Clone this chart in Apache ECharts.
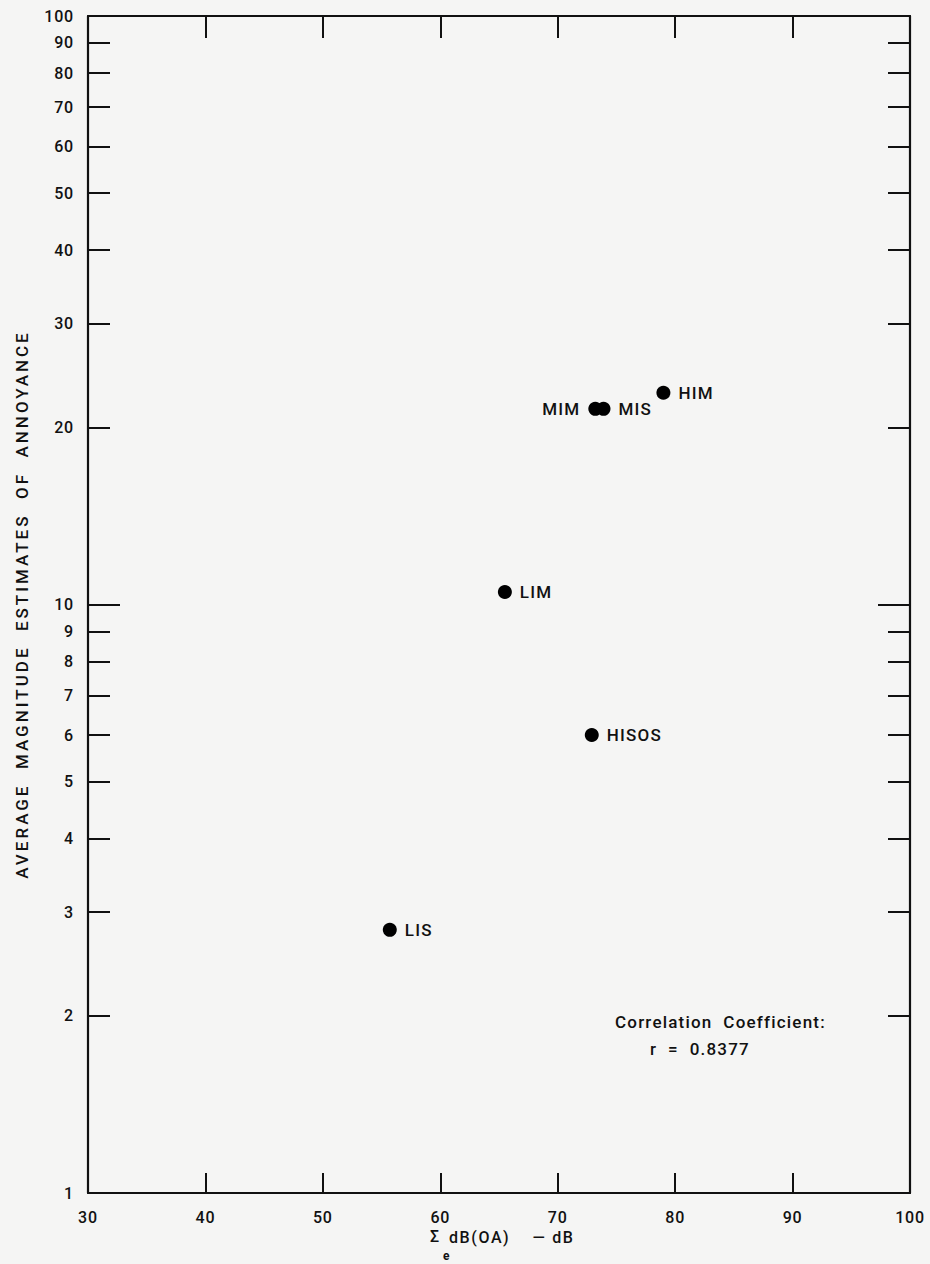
<!DOCTYPE html>
<html>
<head>
<meta charset="utf-8">
<script src="https://cdn.jsdelivr.net/npm/echarts@6/dist/echarts.min.js"></script>
<style>
html,body{margin:0;padding:0;background:#f5f5f4;}
#c{width:930px;height:1264px;}
</style>
</head>
<body>
<div id="c"></div>
<script>
// ---- data ----
const pointNames = ['LIS', 'LIM', 'HISOS', 'MIM', 'MIS', 'HIM'];
const dbOA       = [55.7, 65.5, 72.9, 73.2, 73.9, 79.0];
const annoyance  = [2.8, 10.5, 6.0, 21.5, 21.5, 22.9];
const labelSide  = ['right', 'right', 'right', 'left', 'right', 'right'];

const xTickValues  = [30, 40, 50, 60, 70, 80, 90, 100];
const xInnerTicks  = [40, 50, 60, 70, 80, 90];
const yLabelValues = [1, 2, 3, 4, 5, 6, 7, 8, 9, 10, 20, 30, 40, 50, 60, 70, 80, 90, 100];
const yShortTicks  = [2, 3, 4, 5, 6, 7, 8, 9, 20, 30, 40, 50, 60, 70, 80, 90];
const yLongTicks   = [10];

const xTitle = 'dB(OA)    — dB';
const yTitle = 'AVERAGE  MAGNITUDE  ESTIMATES  OF  ANNOYANCE';
const corrLines = ['Correlation  Coefficient:', 'r  =  0.8377'];

const FONT = 'Roboto, "Liberation Sans", Arial, Helvetica, sans-serif';
const W = 500;
const INK = '#111111';

const chart = echarts.init(document.getElementById('c'), null, {renderer: 'svg'});

function logAxis(extra) {
  return Object.assign({
    type: 'log', logBase: 10, min: 1, max: 100,
    splitLine: {show: false},
    axisLine: {show: false},
    axisLabel: {show: false},
    axisTick: {show: false}
  }, extra);
}
function valAxis(extra) {
  return Object.assign({
    type: 'value', min: 30, max: 100, interval: 10,
    splitLine: {show: false},
    axisLine: {show: false},
    axisLabel: {show: false},
    axisTick: {show: false}
  }, extra);
}

const option = {
  backgroundColor: '#f5f5f4',
  animation: false,
  grid: {left: 88, right: 20, top: 16, bottom: 71, containLabel: false},
  xAxis: [
    valAxis({
      position: 'bottom',
      axisLine: {show: true, onZero: false, lineStyle: {color: INK, width: 2.2}},
      axisTick: {show: true, inside: true, length: 20, customValues: xInnerTicks, lineStyle: {color: INK, width: 2}},
      axisLabel: {show: true, margin: 16, customValues: xTickValues, color: INK, fontSize: 16, fontWeight: W, fontFamily: FONT}
    }),
    valAxis({
      position: 'top',
      axisLine: {show: true, onZero: false, lineStyle: {color: INK, width: 2.2}},
      axisTick: {show: true, inside: true, length: 22, customValues: xInnerTicks, lineStyle: {color: INK, width: 2}}
    })
  ],
  yAxis: [
    logAxis({
      position: 'left',
      axisLine: {show: true, onZero: false, lineStyle: {color: INK, width: 2.2}},
      axisTick: {show: true, inside: true, length: 22, customValues: yShortTicks, lineStyle: {color: INK, width: 2}},
      axisLabel: {show: true, margin: 14, customValues: yLabelValues, color: INK, fontSize: 16, fontWeight: W, fontFamily: FONT},
      name: yTitle, nameLocation: 'middle', nameGap: 58, nameRotate: 90,
      nameTextStyle: {color: INK, fontSize: 17, fontWeight: W, fontFamily: FONT}
    }),
    logAxis({
      position: 'right',
      axisLine: {show: true, onZero: false, lineStyle: {color: INK, width: 2.2}},
      axisTick: {show: true, inside: true, length: 22, customValues: yShortTicks, lineStyle: {color: INK, width: 2}}
    }),
    logAxis({
      position: 'left',
      axisTick: {show: true, inside: true, length: 32, customValues: yLongTicks, lineStyle: {color: INK, width: 2}}
    }),
    logAxis({
      position: 'right',
      axisTick: {show: true, inside: true, length: 32, customValues: yLongTicks, lineStyle: {color: INK, width: 2}}
    })
  ],
  series: [{
    type: 'scatter',
    xAxisIndex: 0, yAxisIndex: 0,
    symbol: 'circle', symbolSize: 14,
    itemStyle: {color: '#000', opacity: 1},
    data: pointNames.map((n, i) => ({
      name: n,
      value: [dbOA[i], annoyance[i]],
      label: {position: labelSide[i]}
    })),
    label: {
      show: true, formatter: '{b}', distance: 8,
      color: INK, fontSize: 17, fontWeight: W, fontFamily: FONT
    }
  }],
  graphic: [
    {type: 'text', left: 430, top: 1228, style: {text: 'Σ', fill: INK, font: W + ' 16px ' + FONT}},
    {type: 'text', left: 443, top: 1250, style: {text: 'e', fill: INK, font: 'bold 12px ' + FONT}},
    {type: 'text', left: 449, top: 1229, style: {text: xTitle, fill: INK, font: W + ' 16px ' + FONT}},
    {type: 'text', left: 615, top: 1013, style: {text: corrLines[0], fill: INK, font: W + ' 17px ' + FONT}},
    {type: 'text', left: 650, top: 1040, style: {text: corrLines[1], fill: INK, font: W + ' 17px ' + FONT}}
  ]
};

chart.setOption(option);

function spaceText() {
  const texts = chart.getDom().querySelectorAll('text');
  texts.forEach(t => {
    const s = t.textContent || '';
    let ls = '0.8px';
    if (s.indexOf('AVERAGE') === 0) ls = '3px';
    else if (s.indexOf('dB(OA)') === 0) ls = '1.6px';
    else if (s.indexOf('Correlation') === 0 || s.indexOf('r ') === 0) ls = '1.2px';
    else if (pointNames.indexOf(s) >= 0) ls = '1.2px';
    t.style.letterSpacing = ls;
  });
}
spaceText();
chart.on('finished', spaceText);
</script>
</body>
</html>
